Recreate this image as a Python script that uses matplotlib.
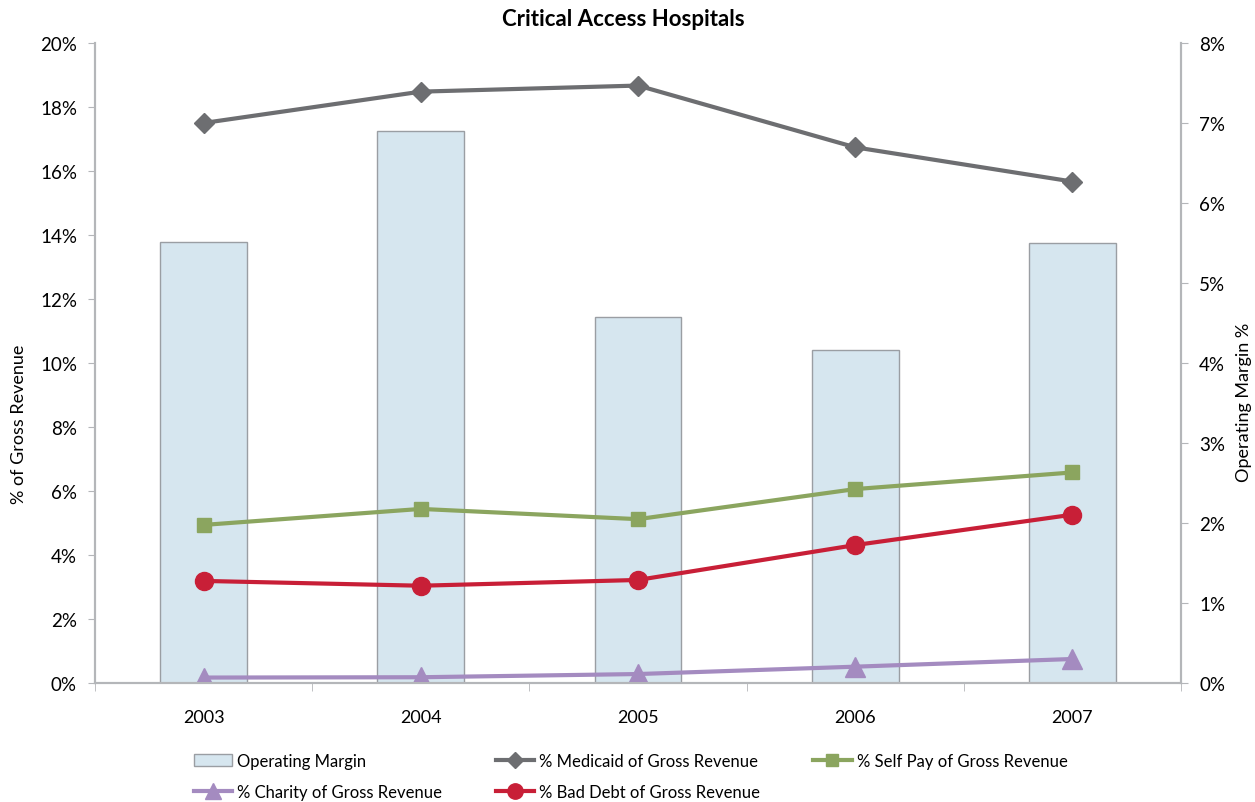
import numpy as np
import matplotlib
matplotlib.use('Agg')
import matplotlib.pyplot as plt
import matplotlib.ticker as mticker

plt.rcParams['font.family'] = ['Lato', 'DejaVu Sans']

years = ['2003', '2004', '2005', '2006', '2007']
operating_margin = [5.51, 6.90, 4.58, 4.16, 5.50]
medicaid = [17.50, 18.48, 18.67, 16.74, 15.67]
self_pay = [4.94, 5.44, 5.12, 6.06, 6.58]
bad_debt = [3.19, 3.04, 3.22, 4.31, 5.26]
charity = [0.17, 0.18, 0.28, 0.51, 0.75]

x = np.arange(len(years))
axis_col = '#b4b6b9'

fig = plt.figure(figsize=[12.55, 8.03], dpi=100)
ax1 = fig.add_axes([95 / 1255, 119 / 803, 1086 / 1255, 640 / 803])
ax2 = ax1.twinx()
ax1.set_zorder(ax2.get_zorder() + 1)
ax1.patch.set_visible(False)

# bars on the right axis
bars = ax2.bar(x, operating_margin, width=0.4, color='#d6e6ef', edgecolor='#9a9ea3',
               linewidth=1.0, label='Operating Margin')

# lines on the left axis
l_med, = ax1.plot(x, medicaid, color='#6d6e71', lw=3, marker='D', ms=10,
                  label='% Medicaid of Gross Revenue')
l_sp, = ax1.plot(x, self_pay, color='#8ba55f', lw=3, marker='s', ms=10,
                 label='% Self Pay of Gross Revenue')
l_ch, = ax1.plot(x, charity, color='#a48bc0', lw=3, marker='^', ms=14,
                 label='% Charity of Gross Revenue')
l_bd, = ax1.plot(x, bad_debt, color='#c81f37', lw=3, marker='o', ms=13,
                 label='% Bad Debt of Gross Revenue')

ax1.set_xlim(-0.5, 4.5)
ax1.set_ylim(0, 20)
ax2.set_ylim(0, 8)
ax1.yaxis.set_major_locator(mticker.MultipleLocator(2))
ax2.yaxis.set_major_locator(mticker.MultipleLocator(1))
ax1.yaxis.set_major_formatter(mticker.FuncFormatter(lambda v, p: '%d%%' % round(v)))
ax2.yaxis.set_major_formatter(mticker.FuncFormatter(lambda v, p: '%d%%' % round(v)))

ax1.set_xticks(x)
ax1.set_xticklabels(years)
ax1.set_xticks(np.arange(-0.5, 5, 1), minor=True)
ax1.tick_params(axis='x', which='major', length=0, pad=19, labelsize=13)
ax1.tick_params(axis='x', which='minor', length=6, color=axis_col, direction='out')
ax1.tick_params(axis='y', length=5, color=axis_col, labelsize=13.5, pad=8)
ax2.tick_params(axis='y', length=5, color=axis_col, labelsize=13.5, pad=8)

for a in (ax1, ax2):
    a.spines['top'].set_visible(False)
    for s in ('left', 'right', 'bottom'):
        a.spines[s].set_color(axis_col)
        a.spines[s].set_linewidth(1.5)

ax1.set_ylabel('% of Gross Revenue', fontsize=13)
ax2.set_ylabel('Operating Margin %', fontsize=13)
ax1.yaxis.set_label_coords((27 - 95) / 1086, 0.405)
ax2.yaxis.set_label_coords((1236 - 95) / 1086, 0.44)
fig.text(623 / 1255, 1 - 20 / 803, 'Critical Access Hospitals', fontsize=16,
         fontweight='bold', ha='center', va='center')

handles = [bars, l_ch, l_med, l_bd, l_sp]
fig.legend(handles=handles, labels=[h.get_label() for h in handles], ncol=3,
           loc='lower left', bbox_to_anchor=(179 / 1255, -0.016), frameon=False,
           fontsize=12, handlelength=2.3, handletextpad=0.3, columnspacing=3.2,
           labelspacing=0.9, markerscale=0.85)

plt.savefig('out.png', dpi=100)
